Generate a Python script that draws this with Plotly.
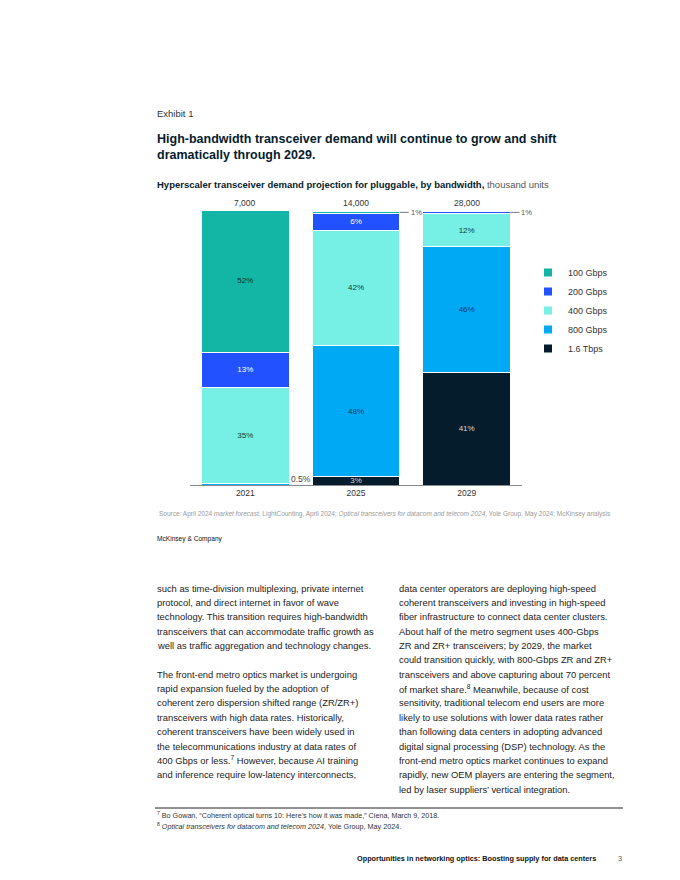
import plotly.graph_objects as go

# ---------------- data ----------------
years = ["2021", "2025", "2029"]
totals = [7000, 14000, 28000]  # thousand units
series_names = ["1.6 Tbps", "800 Gbps", "400 Gbps", "200 Gbps", "100 Gbps"]  # bottom -> top
share_16t = [0, 3, 41]
share_800g = [0.5, 48, 46]
share_400g = [35, 42, 12]
share_200g = [13, 6, 1]
share_100g = [52, 1, 0]

series_values = [share_16t, share_800g, share_400g, share_200g, share_100g]
series_colors = ["#051C2C", "#00A9F4", "#76F0E4", "#2251FF", "#13B5A4"]
series_textcolors = ["#D8D8D8", "#0B3A66", "#0E3B3A", "#FFFFFF", "#0E2F2C"]

FONT = "Liberation Sans"
OFF = 8            # browser body margin
W, H = 680 - OFF, 880 - OFF
L, R, T, B = 190, 522, 211, 485  # plot-area box in page pixels


def px(xp):
    return (xp - L) / (R - L)


def py(yp):
    return (B - yp) / (B - T)


fig = go.Figure()
for name, vals, col, tcol in zip(series_names, series_values, series_colors, series_textcolors):
    txt = [f"{v:g}%" if v >= 3 else None for v in vals]
    fig.add_trace(go.Bar(
        x=years, y=vals, name=name, showlegend=False,
        marker=dict(color=col, line=dict(color="white", width=1)),
        text=txt, textposition="inside", insidetextanchor="middle",
        textfont=dict(family=FONT, size=8, color=tcol),
        hoverinfo="skip",
    ))

# legend entries (top -> bottom as in the reference)
for name, col in reversed(list(zip(series_names, series_colors))):
    fig.add_trace(go.Scatter(
        x=[None], y=[None], mode="markers", name=name,
        marker=dict(symbol="square", size=8, color=col, line=dict(width=0)),
    ))

annotations = []
# totals above bars
for i, (yr, tot) in enumerate(zip(years, totals)):
    stack_top = sum(v[i] for v in series_values)
    annotations.append(dict(x=i, y=min(stack_top, 100), xref="x", yref="y", text=f"{tot:,}",
                            showarrow=False, yanchor="bottom", yshift=1,
                            font=dict(family=FONT, size=8.5, color="#333333")))

# small-segment labels outside the bars
half_w = 0.395
for i in range(len(years)):
    base = 0.0
    for k, vals in enumerate(series_values):
        v = vals[i]
        if 0 < v < 3:
            if base < 5:  # tiny bottom segment: label to the right of bar base
                annotations.append(dict(x=i + half_w, y=base, xref="x", yref="y",
                                        text=f"{v:g}%", showarrow=False,
                                        xanchor="left", yanchor="bottom", yshift=-1,
                                        font=dict(family=FONT, size=8.5, color="#444444")))
            else:
                annotations.append(dict(x=i + half_w, y=base + v / 2, xref="x", yref="y",
                                        text=f"{v:g}%", showarrow=True, arrowhead=0,
                                        arrowwidth=0.8, arrowcolor="#555555",
                                        ax=9, ay=0, xanchor="left", standoff=0,
                                        font=dict(family=FONT, size=7.5, color="#555555")))
        base += v


def page_text(x, y, text, size, color="#111111", xanchor="left", yanchor="middle"):
    annotations.append(dict(x=px(x), y=py(y), xref="paper", yref="paper", text=text,
                            showarrow=False, xanchor=xanchor, yanchor=yanchor, align="left",
                            font=dict(family=FONT, size=size, color=color)))


page_text(155, 113, "Exhibit 1", 9.5, "#333333")
page_text(155, 147, "<b>High-bandwidth transceiver demand will continue to grow and shift<br>"
          "dramatically through 2029.</b>", 12.5, "#051C2C")
page_text(155, 184, "<b>Hyperscaler transceiver demand projection for pluggable, by bandwidth,</b>"
          " <span style='color:#555555'>thousand units</span>", 9.5, "#051C2C")
page_text(157, 514, "Source: April 2024 <i>market forecast</i>, LightCounting, April 2024; "
          "<i>Optical transceivers for datacom and telecom 2024</i>, Yole Group, May 2024; "
          "McKinsey analysis", 6.5, "#9A9A9A")
page_text(155, 539, "McKinsey &amp; Company", 6.6, "#111111")

left_col = [
    "such as time-division multiplexing, private internet",
    "protocol, and direct internet in favor of wave",
    "technology. This transition requires high-bandwidth",
    "transceivers that can accommodate traffic growth as",
    "well as traffic aggregation and technology changes.",
    "",
    "The front-end metro optics market is undergoing",
    "rapid expansion fueled by the adoption of",
    "coherent zero dispersion shifted range (ZR/ZR+)",
    "transceivers with high data rates. Historically,",
    "coherent transceivers have been widely used in",
    "the telecommunications industry at data rates of",
    "400 Gbps or less.<sup>7</sup> However, because AI training",
    "and inference require low-latency interconnects,",
]
right_col = [
    "data center operators are deploying high-speed",
    "coherent transceivers and investing in high-speed",
    "fiber infrastructure to connect data center clusters.",
    "About half of the metro segment uses 400-Gbps",
    "ZR and ZR+ transceivers; by 2029, the market",
    "could transition quickly, with 800-Gbps ZR and ZR+",
    "transceivers and above capturing about 70 percent",
    "of market share.<sup>8</sup> Meanwhile, because of cost",
    "sensitivity, traditional telecom end users are more",
    "likely to use solutions with lower data rates rather",
    "than following data centers in adopting advanced",
    "digital signal processing (DSP) technology. As the",
    "front-end metro optics market continues to expand",
    "rapidly, new OEM players are entering the segment,",
    "led by laser suppliers\u2019 vertical integration.",
]
LINE = 14.37
for j, line in enumerate(left_col):
    if line:
        page_text(155, 588 + j * LINE, line, 9.4, "#222222")
for j, line in enumerate(right_col):
    page_text(397, 588 + j * LINE, line, 9.4, "#222222")

page_text(155, 815, "<sup>7</sup> Bo Gowan, \u201cCoherent optical turns 10: Here\u2019s how it was made,\u201d"
          " Ciena, March 9, 2018.", 7.2, "#333333")
page_text(155, 826, "<sup>8</sup> <i>Optical transceivers for datacom and telecom 2024</i>,"
          " Yole Group, May 2024.", 7.2, "#333333")
page_text(598, 858, "<b>Opportunities in networking optics: Boosting supply for data centers</b>",
          7.3, "#111111", xanchor="right")
page_text(624, 858, "3", 7.3, "#555555", xanchor="right")

shapes = [dict(type="line", xref="paper", yref="paper", x0=px(155), x1=px(623),
               y0=py(808), y1=py(808), line=dict(color="#222222", width=1))]

fig.update_layout(
    width=W, height=H, autosize=False,
    margin=dict(l=L - OFF, r=680 - R, t=T - OFF, b=880 - B, pad=0),
    paper_bgcolor="white", plot_bgcolor="white",
    barmode="stack", bargap=0.21,
    font=dict(family=FONT, size=8, color="#333333"),
    xaxis=dict(range=[-0.5, 2.5], showline=True, linecolor="#888888", linewidth=1,
               ticks="", showgrid=False, zeroline=False, fixedrange=True,
               tickfont=dict(family=FONT, size=8.5, color="#333333")),
    yaxis=dict(range=[0, 100], visible=False, fixedrange=True),
    showlegend=True,
    legend=dict(x=px(528), y=py(258), xanchor="left", yanchor="top",
                traceorder="normal", tracegroupgap=0,
                font=dict(family=FONT, size=9, color="#333333"),
                itemwidth=30, bgcolor="rgba(0,0,0,0)"),
    uniformtext=dict(minsize=8, mode="show"),
    annotations=annotations, shapes=shapes,
)

fig.write_html("out.html")
